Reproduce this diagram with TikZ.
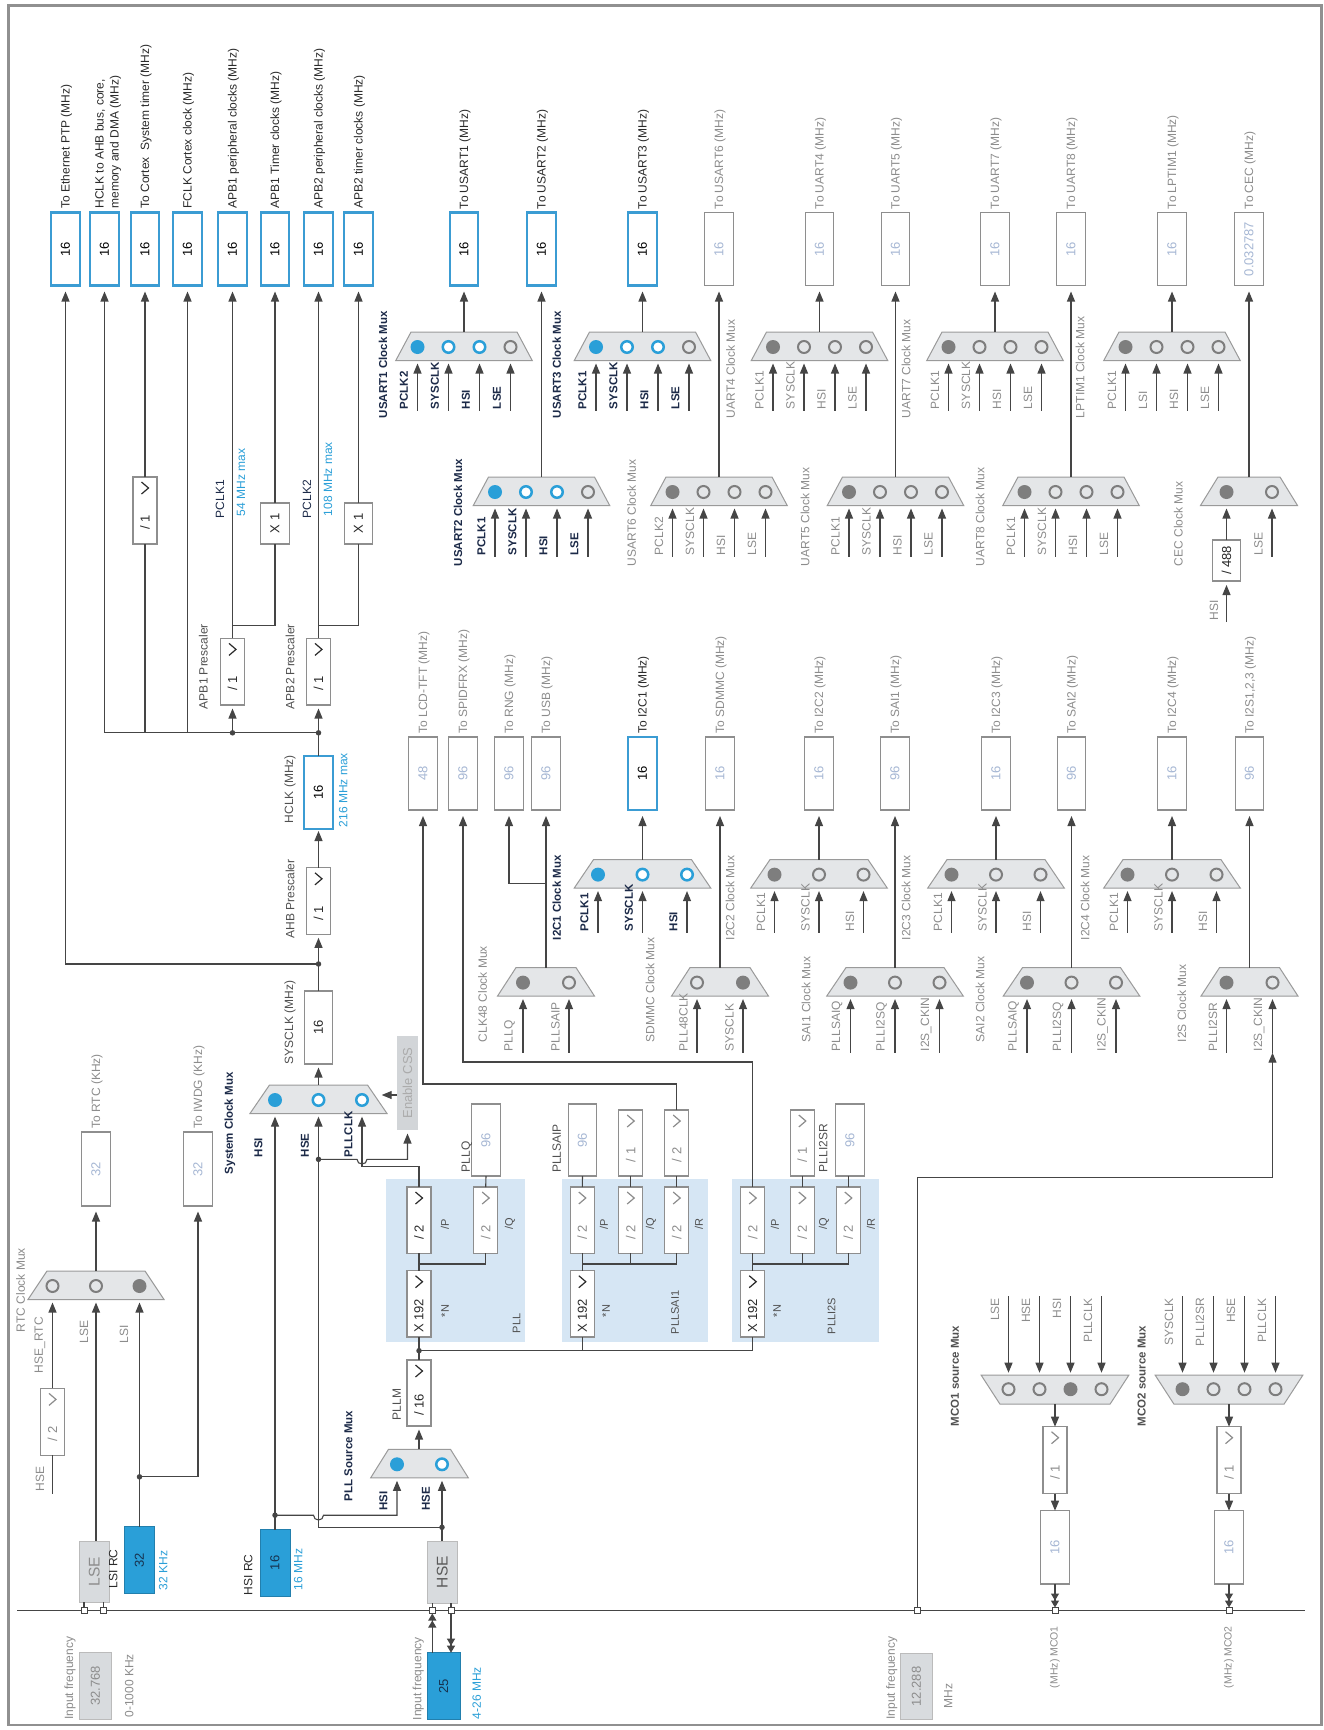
\documentclass[tikz,border=0pt]{standalone}
\usepackage{fontspec}
\setmainfont{Liberation Sans}
\usepackage{graphicx}
\usetikzlibrary{arrows.meta}

\definecolor{cblue}{HTML}{2A9FD8}
\definecolor{cbline}{HTML}{3B9CD3}
\definecolor{pllbg}{HTML}{D6E6F4}
\definecolor{muxf}{HTML}{E4E6E8}
\definecolor{muxd}{HTML}{9A9A9A}
\definecolor{tnavy}{HTML}{1C2A48}
\definecolor{tdark}{HTML}{2A2A2A}
\definecolor{tmid}{HTML}{505050}
\definecolor{tgray}{HTML}{8C8C8C}
\definecolor{vgray}{HTML}{A6B7D4}
\definecolor{lncol}{HTML}{454545}
\definecolor{bxd}{HTML}{8E8E8E}
\definecolor{gboxf}{HTML}{D8DBDE}
\definecolor{framec}{HTML}{909090}
\definecolor{cgray}{HTML}{7E7E7E}
\definecolor{cssf}{HTML}{D2D5D8}
\definecolor{bluetxt}{HTML}{17324F}

\newcommand{\fs}[1]{\fontsize{#1}{#1}\selectfont}

\tikzset{
  every node/.style={inner sep=0pt, outer sep=0pt},
  Lg/.style={rotate=90, font=\fs{12}, text=tgray},
  Ld/.style={rotate=90, font=\fs{12}, text=tdark},
  Lm/.style={rotate=90, font=\fs{12}, text=tmid},
  Lb/.style={rotate=90, font=\fs{12}, text=cblue},
  Lnr/.style={rotate=90, font=\fs{12}, text=tnavy},
  Ln/.style={rotate=90, font=\fs{11.5}\bfseries, text=tnavy},
  Lgb/.style={rotate=90, font=\fs{11.5}\bfseries, text=tmid},
  ln/.style={draw=lncol, line width=1.1pt},
  arr/.style={ln, -{Triangle[length=10pt,width=8pt]}},
  arrtwo/.style={ln, -{Triangle[length=7pt,width=8pt] Triangle[length=7pt,width=8pt]}},
  bx/.style={rectangle, draw=bxd, line width=1.1pt, fill=white, font=\fs{13}, text=vgray, minimum width=28.5pt},
  abx/.style={bx, draw=cbline, line width=2.3pt, text=black},
  sbx/.style={bx, text=black!85},
  ddb/.style={rectangle, draw=bxd, line width=1.1pt, fill=white, minimum width=24pt},
  muxs/.style={fill=muxf, draw=muxd, line width=1pt},
  cs/.style={circle, fill=cblue, minimum size=14pt},
  ca/.style={circle, draw=cblue, line width=2.5pt, fill=white, minimum size=11.5pt},
  cn/.style={circle, draw=cgray, line width=2pt, fill=muxf, minimum size=12pt},
  cg/.style={circle, fill=cgray, minimum size=14pt},
  dot/.style={circle, fill=lncol, minimum size=5.5pt},
  pinsq/.style={rectangle, draw=lncol, line width=1pt, fill=white, minimum size=6pt},
  rcb/.style={rectangle, fill=cblue, draw=cblue!80!black, line width=0.8pt, font=\fs{13}, text=bluetxt},
  gb/.style={rectangle, fill=gboxf, draw=bxd!60, line width=0.6pt, font=\fs{13}, text=tgray},
}

% value box: [style]{name}{cx}{ytop}{ybot}{text}
\newcommand{\VB}[6][bx]{\node[#1, minimum height={(#5)-(#4)}] (#2) at (#3,{((#4)+(#5))/2}) {\rotatebox{90}{#6}};}
% dropdown box: {name}{cx}{ytop}{ybot}{text}{colour}
\newcommand{\DD}[6]{%
  \node[ddb, minimum height={(#4)-(#3)}] (#1) at (#2,{((#3)+(#4))/2}) {};
  \node[rotate=90, font=\fs{13}, text=#6] (#1-t) at (#2,{(#3)+0.68*((#4)-(#3))}) {#5};
  \draw[draw=#6, line width=1.2pt] ({#2-3.5},{#3+5}) -- ({#2+3.5},{#3+11}) -- ({#2-3.5},{#3+17});}
% upward mux: {name}{cx}{ytop}{tophalf}{bothalf}{list x/style}
\newcommand{\MuxC}[6]{%
  \filldraw[muxs] ({#2-#4},#3) -- ({#2+#4},#3) -- ({#2+#5},{#3+28.5}) -- ({#2-#5},{#3+28.5}) -- cycle;
  \coordinate (#1) at (#2,#3);
  \foreach \xx/\ss [count=\k] in {#6} {\node[\ss] (#1-\k) at (\xx,{#3+15}) {};}}
% inputs from below: {muxtop}{ystart}{list x/label}{style}
\newcommand{\Ins}[4]{%
  \foreach \xx/\ll in {#3} {\draw[arr] (\xx,#2) -- (\xx,{#1+31.5});
    \node[#4, anchor=west] at ({\xx-13.5},{#2-1.5}) {\ll};}}
% downward mux: {name}{cx}{ytop}{widehalf}{narrowhalf}{list x/style}
\newcommand{\MuxD}[6]{%
  \filldraw[muxs] ({#2-#4},#3) -- ({#2+#4},#3) -- ({#2+#5},{#3+29}) -- ({#2-#5},{#3+29}) -- cycle;
  \coordinate (#1) at (#2,{#3+29});
  \foreach \xx/\ss [count=\k] in {#6} {\node[\ss] (#1-\k) at (\xx,{#3+14}) {};}}
\newcommand{\InsD}[4]{%
  \foreach \xx/\ll in {#3} {\draw[arr] (\xx,#2) -- (\xx,{#1-2.5});
    \node[#4, anchor=east] at ({\xx-13.5},{#2+2}) {\ll};}}
% output box fed by mux: {style}{name}{cx}{ytop}{ybot}{value}{label}{labelstyle}{mux}
\newcommand{\Out}[9]{%
  \VB[#1]{#2}{#3}{#4}{#5}{#6}
  \node[#8, anchor=west] at ({#3+1},{#4-3.5}) {#7};
  \draw[arr, shorten >=6pt] (#2.south |- #9) -- (#2.south);}

\begin{document}
\begin{tikzpicture}[x=1pt,y=-1pt]
\useasboundingbox (0,0) rectangle (1324,1730);
\fill[white] (0,0) rectangle (1324,1730);
\draw[framec, line width=2.5pt] (8.3,5.5) rectangle (1321.7,1725);

% ================= PLL backgrounds
\fill[pllbg] (386,1179.3) rectangle (525,1341.7);
\fill[pllbg] (561.7,1179.3) rectangle (707.7,1341.7);
\fill[pllbg] (732.3,1179.3) rectangle (879.3,1341.7);

% ================= top-left outputs
\VB[abx]{eth}{65.5}{212.5}{285.5}{16}
\VB[abx]{hclko}{104.5}{212.5}{285.5}{16}
\VB[abx]{cort}{145}{212.5}{285.5}{16}
\VB[abx]{fclk}{187.5}{212.5}{285.5}{16}
\VB[abx]{apb1p}{232.5}{212.5}{285.5}{16}
\VB[abx]{apb1t}{275}{212.5}{285.5}{16}
\VB[abx]{apb2p}{318.5}{212.5}{285.5}{16}
\VB[abx]{apb2t}{358.5}{212.5}{285.5}{16}
\node[Ld, anchor=west] at (66.5,208.5) {To Ethernet PTP (MHz)};
\node[Ld, anchor=west, align=left, font=\fontsize{12}{15}\selectfont] at (108,208.5) {HCLK to AHB bus, core,\\memory and DMA (MHz)};
\node[Ld, anchor=west] at (146,208.5) {To Cortex\ \ System timer (MHz)};
\node[Ld, anchor=west] at (188.5,208.5) {FCLK Cortex clock (MHz)};
\node[Ld, anchor=west] at (233.5,208.5) {APB1 peripheral clocks (MHz)};
\node[Ld, anchor=west] at (276,208.5) {APB1 Timer clocks (MHz)};
\node[Ld, anchor=west] at (319.5,208.5) {APB2 peripheral clocks (MHz)};
\node[Ld, anchor=west] at (359.5,208.5) {APB2 timer clocks (MHz)};

\DD{cortdiv}{145}{477}{544}{/ 1}{tdark}
\VB[sbx]{x1a}{275}{503}{544}{X 1}
\VB[sbx]{x1b}{358.5}{503}{544}{X 1}
\DD{apb1pre}{232.5}{638.4}{705}{/ 1}{tdark}
\DD{apb2pre}{318.5}{638.4}{705}{/ 1}{tdark}
\VB[abx]{hclk}{318.5}{756}{829}{16}
\DD{ahb}{318.5}{867.8}{934.3}{/ 1}{tdark}
\VB[sbx]{sysclk}{318.5}{991}{1064}{16}

\node[Lnr, anchor=west] at (220,518) {PCLK1};
\node[Lb, anchor=west] at (241,516) {54 MHz max};
\node[Lnr, anchor=west] at (307,518) {PCLK2};
\node[Lb, anchor=west] at (328,516) {108 MHz max};
\node[Lm, anchor=west] at (203.3,709) {APB1 Prescaler};
\node[Lm, anchor=west] at (290,709) {APB2 Prescaler};
\node[Lm, anchor=west] at (290,823) {HCLK (MHz)};
\node[Lb, anchor=west] at (343.3,827) {216 MHz max};
\node[Lm, anchor=west] at (290,938) {AHB Prescaler};
\node[Lm, anchor=west] at (290,1064) {SYSCLK (MHz)};

\draw[arr, shorten >=6pt] (318.5,964) -| (eth.south);
\draw[ln] (104.5,732.8) -- (318.5,732.8);
\draw[arr, shorten >=6pt] (104.5,732.8) -- (hclko.south);
\draw[ln] (145,732.8) -- (cortdiv.south);
\draw[arr, shorten >=6pt] (cortdiv.north) -- (cort.south);
\draw[arr, shorten >=6pt] (187.5,732.8) -- (fclk.south);
\draw[arr, shorten >=3.5pt] (232.5,732.8) -- (apb1pre.south);
\draw[arr, shorten >=6pt] (apb1pre.north) -- (apb1p.south);
\draw[ln] (232.5,625.5) -| (x1a.south);
\draw[arr, shorten >=6pt] (x1a.north) -- (apb1t.south);
\draw[arr, shorten >=3.5pt] (hclk.north) -- (apb2pre.south);
\draw[arr, shorten >=6pt] (apb2pre.north) -- (apb2p.south);
\draw[ln] (318.5,625.5) -| (x1b.south);
\draw[arr, shorten >=6pt] (x1b.north) -- (apb2t.south);
\draw[arr, shorten >=2pt] (ahb.north) -- (hclk.south);
\draw[arr, shorten >=3.5pt] (sysclk.north) -- (ahb.south);
\node[dot] (j1) at (232.5,732.8) {};
\node[dot] (j2) at (318.5,732.8) {};
\node[dot] (j3) at (318.5,964) {};

% ================= row 1 muxes (top 332)
\MuxC{usart1}{464}{332}{53}{68.2}{417.5/cs,448.5/ca,479.5/ca,510.5/cn}
\Ins{332}{410.5}{417.5/PCLK2,448.5/SYSCLK,479.5/HSI,510.5/LSE}{Ln}
\MuxC{usart3}{642.5}{332}{53}{68.2}{596/cs,627/ca,658/ca,689/cn}
\Ins{332}{410.5}{596/PCLK1,627/SYSCLK,658/HSI,689/LSE}{Ln}
\MuxC{uart4}{819.5}{332}{53}{68.2}{773/cg,804/cn,835/cn,866/cn}
\Ins{332}{410.5}{773/PCLK1,804/SYSCLK,835/HSI,866/LSE}{Lg}
\MuxC{uart7}{995}{332}{53}{68.2}{948.5/cg,979.5/cn,1010.5/cn,1041.5/cn}
\Ins{332}{410.5}{948.5/PCLK1,979.5/SYSCLK,1010.5/HSI,1041.5/LSE}{Lg}
\MuxC{lptim1}{1172}{332}{53}{68.2}{1125.5/cg,1156.5/cn,1187.5/cn,1218.5/cn}
\Ins{332}{410.5}{1125.5/PCLK1,1156.5/LSI,1187.5/HSI,1218.5/LSE}{Lg}
\node[Ln, anchor=west] at (383,418) {USART1 Clock Mux};
\node[Ln, anchor=west] at (556.7,418) {USART3 Clock Mux};
\node[Lg, anchor=west] at (730.7,418) {UART4 Clock Mux};
\node[Lg, anchor=west] at (906,418) {UART7 Clock Mux};
\node[Lg, anchor=west] at (1080,418) {LPTIM1 Clock Mux};

% ================= row 2 muxes (top 477)
\MuxC{usart2}{541.5}{477}{53}{68.2}{495/cs,526/ca,557/ca,588/cn}
\Ins{477}{556.7}{495/PCLK1,526/SYSCLK,557/HSI,588/LSE}{Ln}
\MuxC{usart6}{719}{477}{53}{68.2}{672.5/cg,703.5/cn,734.5/cn,765.5/cn}
\Ins{477}{556.7}{672.5/PCLK2,703.5/SYSCLK,734.5/HSI,765.5/LSE}{Lg}
\MuxC{uart5}{895.5}{477}{53}{68.2}{849/cg,880/cn,911/cn,942/cn}
\Ins{477}{556.7}{849/PCLK1,880/SYSCLK,911/HSI,942/LSE}{Lg}
\MuxC{uart8}{1071}{477}{53}{68.2}{1024.5/cg,1055.5/cn,1086.5/cn,1117.5/cn}
\Ins{477}{556.7}{1024.5/PCLK1,1055.5/SYSCLK,1086.5/HSI,1117.5/LSE}{Lg}
\MuxC{cec}{1249}{477}{31}{48.5}{1226.5/cg,1272/cn}
\Ins{477}{556.7}{1272/LSE}{Lg}
\node[sbx, minimum width=28pt, minimum height=41pt] (d488) at (1226.5,560.5) {\rotatebox{90}{/ 488}};
\draw[arr, shorten >=4pt] (1226.5,622) -- (d488.south);
\draw[arr] (d488.north) -- (1226.5,508.5);
\node[Lg, anchor=west] at (1214,620.5) {HSI};
\node[Ln, anchor=west] at (458,566) {USART2 Clock Mux};
\node[Lg, anchor=west] at (631.7,566) {USART6 Clock Mux};
\node[Lg, anchor=west] at (805,566) {UART5 Clock Mux};
\node[Lg, anchor=west] at (980,566) {UART8 Clock Mux};
\node[Lg, anchor=west] at (1178.3,566) {CEC Clock Mux};

% ================= row 1/2 outputs
\Out{abx}{ou1}{464}{212.5}{285.5}{16}{To USART1 (MHz)}{Ld}{usart1}
\Out{abx}{ou2}{541.5}{212.5}{285.5}{16}{To USART2 (MHz)}{Ld}{usart2}
\Out{abx}{ou3}{642.5}{212.5}{285.5}{16}{To USART3 (MHz)}{Ld}{usart3}
\Out{bx}{ou6}{719}{212.5}{285.5}{16}{To USART6 (MHz)}{Lg}{usart6}
\Out{bx}{oua4}{819.5}{212.5}{285.5}{16}{To UART4 (MHz)}{Lg}{uart4}
\Out{bx}{oua5}{895.5}{212.5}{285.5}{16}{To UART5 (MHz)}{Lg}{uart5}
\Out{bx}{oua7}{995}{212.5}{285.5}{16}{To UART7 (MHz)}{Lg}{uart7}
\Out{bx}{oua8}{1071}{212.5}{285.5}{16}{To UART8 (MHz)}{Lg}{uart8}
\Out{bx}{olp}{1172}{212.5}{285.5}{16}{To LPTIM1 (MHz)}{Lg}{lptim1}
\Out{bx}{ocec}{1249}{212.5}{285.5}{0.032787}{To CEC (MHz)}{Lg}{cec}

% ================= row 3 muxes (top 859.6)
\MuxC{i2c1}{642.5}{859.6}{49}{68.3}{598/cs,642.5/ca,687/ca}
\Ins{859.6}{932.5}{598/PCLK1,642.5/SYSCLK,687/HSI}{Ln}
\MuxC{i2c2}{819}{859.6}{49}{68.3}{774.5/cg,819/cn,863.5/cn}
\Ins{859.6}{932.5}{774.5/PCLK1,819/SYSCLK,863.5/HSI}{Lg}
\MuxC{i2c3}{996}{859.6}{49}{68.3}{951.5/cg,996/cn,1040.5/cn}
\Ins{859.6}{932.5}{951.5/PCLK1,996/SYSCLK,1040.5/HSI}{Lg}
\MuxC{i2c4}{1172}{859.6}{49}{68.3}{1127.5/cg,1172/cn,1216.5/cn}
\Ins{859.6}{932.5}{1127.5/PCLK1,1172/SYSCLK,1216.5/HSI}{Lg}
\node[Ln, anchor=west] at (556.7,940) {I2C1 Clock Mux};
\node[Lg, anchor=west] at (730,940) {I2C2 Clock Mux};
\node[Lg, anchor=west] at (906,940) {I2C3 Clock Mux};
\node[Lg, anchor=west] at (1085,940) {I2C4 Clock Mux};

% ================= row 4 muxes (top 967.6)
\MuxC{clk48}{546}{967.6}{30}{48.5}{523/cg,569/cn}
\Ins{967.6}{1052.7}{523/PLLQ,569/PLLSAIP}{Lg}
\MuxC{sdmmc}{720}{967.6}{30}{48.5}{697/cn,743/cg}
\Ins{967.6}{1052.7}{697/PLL48CLK,743/SYSCLK}{Lg}
\MuxC{sai1}{895}{967.6}{49}{68.3}{850.5/cg,895/cn,939.5/cn}
\Ins{967.6}{1052.7}{850.5/PLLSAIQ,895/PLLI2SQ,939.5/I2S\_CKIN}{Lg}
\MuxC{sai2}{1071.5}{967.6}{49}{68.3}{1027/cg,1071.5/cn,1116/cn}
\Ins{967.6}{1052.7}{1027/PLLSAIQ,1071.5/PLLI2SQ,1116/I2S\_CKIN}{Lg}
\MuxC{i2s}{1249.5}{967.6}{30}{48.5}{1226.5/cg,1272.5/cn}
\Ins{967.6}{1052.7}{1226.5/PLLI2SR,1272.5/I2S\_CKIN}{Lg}
\node[Lg, anchor=west] at (482.7,1042) {CLK48 Clock Mux};
\node[Lg, anchor=west] at (650,1042) {SDMMC Clock Mux};
\node[Lg, anchor=west] at (806,1042) {SAI1 Clock Mux};
\node[Lg, anchor=west] at (980,1042) {SAI2 Clock Mux};
\node[Lg, anchor=west] at (1181.7,1042) {I2S Clock Mux};

% ================= row 3/4 outputs
\VB{lcd}{423}{737}{810}{48}
\node[Lg, anchor=west] at (424,733.5) {To LCD-TFT (MHz)};
\VB{spdif}{463}{737}{810}{96}
\node[Lg, anchor=west] at (464,733.5) {To SPIDFRX (MHz)};
\VB{rng}{509}{737}{810}{96}
\node[Lg, anchor=west] at (510,733.5) {To RNG (MHz)};
\VB{usb}{546}{737}{810}{96}
\node[Lg, anchor=west] at (547,733.5) {To USB (MHz)};
\draw[arr, shorten >=6pt] (clk48) -- (usb.south);
\draw[arr, shorten >=6pt] (546,883.7) -| (rng.south);
\Out{abx}{oi2c1}{642.5}{737}{810}{16}{To I2C1 (MHz)}{Ld}{i2c1}
\Out{bx}{osdmmc}{720}{737}{810}{16}{To SDMMC (MHz)}{Lg}{sdmmc}
\Out{bx}{oi2c2}{819}{737}{810}{16}{To I2C2 (MHz)}{Lg}{i2c2}
\Out{bx}{osai1}{895}{737}{810}{96}{To SAI1 (MHz)}{Lg}{sai1}
\Out{bx}{oi2c3}{996}{737}{810}{16}{To I2C3 (MHz)}{Lg}{i2c3}
\Out{bx}{osai2}{1071.5}{737}{810}{96}{To SAI2 (MHz)}{Lg}{sai2}
\Out{bx}{oi2c4}{1172}{737}{810}{16}{To I2C4 (MHz)}{Lg}{i2c4}
\Out{bx}{oi2s}{1249.5}{737}{810}{96}{To I2S1,2,3 (MHz)}{Lg}{i2s}

% ================= system clock mux
\MuxC{sysmux}{318.5}{1085}{49}{68.5}{275/cs,318.5/ca,362/ca}
\draw[arr, shorten >=3.5pt] (sysmux) -- (sysclk.south);
\node[Ln, anchor=west] at (230,1174) {System Clock Mux};
\node[Ln, anchor=west] at (258.3,1157) {HSI};
\node[Ln, anchor=west] at (305,1157) {HSE};
\node[Ln, anchor=west] at (348.3,1157) {PLLCLK};
\node[rectangle, fill=cssf, minimum width=21pt, minimum height=94pt] (css) at (407.5,1083) {\rotatebox{90}{\fs{13}\color{black!33}Enable CSS}};
\draw[arr] (css.west |- 0,1095) -- (381.7,1095);

% ================= PLLs
\DD{pN}{419}{1270.7}{1337}{X 192}{tdark}
\DD{pP}{419}{1187}{1253.3}{/ 2}{tdark}
\DD{pQ}{485.7}{1187}{1253.3}{/ 2}{tgray}
\DD{sN}{582.3}{1270.7}{1337}{X 192}{tdark}
\DD{sP}{582.3}{1187}{1253.3}{/ 2}{tgray}
\DD{sQ}{630.7}{1187}{1253.3}{/ 2}{tgray}
\DD{sR}{676.7}{1187}{1253.3}{/ 2}{tgray}
\DD{iN}{752.7}{1270.7}{1337}{X 192}{tdark}
\DD{iP}{752.7}{1187}{1253.3}{/ 2}{tgray}
\DD{iQ}{802.3}{1187}{1253.3}{/ 2}{tgray}
\DD{iR}{848.3}{1187}{1253.3}{/ 2}{tgray}
\VB{pllq}{486}{1104}{1176}{96}
\VB{saip}{582.5}{1104}{1176}{96}
\DD{saiq}{630.7}{1110}{1176}{/ 1}{tgray}
\DD{sair}{676.7}{1110}{1176}{/ 2}{tgray}
\DD{i2sq}{802.3}{1110}{1176}{/ 1}{tgray}
\VB{i2sr}{849.8}{1104}{1176}{96}
\node[Lm, anchor=west] at (466.7,1172) {PLLQ};
\node[Lm, anchor=west] at (556.7,1172.7) {PLLSAIP};
\node[Lm, anchor=west] at (823.3,1172) {PLLI2SR};
\foreach \xx/\tt in {445/P,510/Q,604/P,651/Q,699/R,775/P,824/Q,871/R}
  {\node[Lm, font=\fs{11}] at (\xx,1224) {/\tt};}
\foreach \xx in {445,606,777} {\node[Lm, font=\fs{11}] at (\xx,1311) {*N};}
\node[Lm, anchor=west, font=\fs{11}] at (516.7,1333) {PLL};
\node[Lm, anchor=west, font=\fs{11}] at (675,1334) {PLLSAI1};
\node[Lm, anchor=west, font=\fs{11}] at (831.7,1334) {PLLI2S};

\draw[ln] (pN.north) -- (pP.south);
\draw[ln] (419,1264) -| (pQ.south);
\draw[ln] (sN.north) -- (sP.south);
\draw[ln] (582.3,1264) -| (sR.south);
\draw[ln] (630.7,1264) -- (sQ.south);
\draw[ln] (iN.north) -- (iP.south);
\draw[ln] (752.7,1264) -| (iR.south);
\draw[ln] (802.3,1264) -- (iQ.south);
\draw[ln] (pQ.north) -- (pllq.south);
\draw[ln] (sP.north) -- (saip.south);
\draw[ln] (sQ.north) -- (saiq.south);
\draw[ln] (sR.north) -- (sair.south);
\draw[ln] (iQ.north) -- (i2sq.south);
\draw[ln] (iR.north) -- (i2sr.south -| iR.north);
\draw[arr, shorten >=6pt] (sair.north) |- (423,1084) -- (lcd.south);
\draw[arr, shorten >=6pt] (iP.north) |- (463,1062) -- (spdif.south);
\draw[arr] (pP.north) |- (362,1166.7) -- (362,1116.6);

% HSE branch to CSS with hop over PLLCLK line
\draw[arr] (318.5,1159.3) -- (357,1159.3) .. controls (357,1165.5) and (367,1165.5) .. (367,1159.3) -- (407.5,1159.3) -- (407.5,1133.5);
\node[dot] (j4) at (318.5,1159.3) {};

% PLLM and source mux
\DD{pllm}{419}{1360}{1426}{/ 16}{tdark}
\node[Lm, anchor=west] at (396.7,1420) {PLLM};
\draw[ln] (pllm.north) -- (pN.south);
\draw[ln] (419,1350.7) -| (iN.south);
\draw[ln] (582.3,1350.7) -- (sN.south);
\node[dot] (j5) at (419,1350.7) {};
\MuxC{psrc}{419.5}{1449.3}{31}{48.8}{397/cs,442/ca}
\draw[arr, shorten >=3.5pt] (psrc -| pllm.south) -- (pllm.south);
\node[Ln, anchor=west] at (348.3,1501) {PLL Source Mux};
\node[Ln, anchor=west] at (383.3,1510.7) {HSI};
\node[Ln, anchor=west] at (426,1510.7) {HSE};

% ================= oscillators
\node[rcb, minimum width=30pt, minimum height=66.5pt] (hsirc) at (275,1562.8) {\rotatebox{90}{16}};
\node[rcb, minimum width=30pt, minimum height=66.6pt] (lsirc) at (139.5,1560.1) {\rotatebox{90}{32}};
\node[gb, minimum width=30.3pt, minimum height=61.2pt, font=\fs{15.5}, text=black!45] (lse) at (94.2,1571.4) {\rotatebox{90}{LSE}};
\node[gb, minimum width=30pt, minimum height=62.3pt, font=\fs{15.5}, text=black!65] (hse) at (442.3,1572.2) {\rotatebox{90}{HSE}};
\node[Ld, anchor=west] at (248.3,1595) {HSI RC};
\node[Lb, anchor=west] at (298.3,1590) {16 MHz};
\node[Ld, anchor=west] at (113.3,1588) {LSI RC};
\node[Lb, anchor=west] at (163.3,1590) {32 KHz};

\draw[arr] (hsirc.north) -- (275,1116.6);
\node[dot] (j6) at (275,1515.2) {};
\draw[arr] (275,1515.2) -- (313.5,1515.2) .. controls (313.5,1521.5) and (323.5,1521.5) .. (323.5,1515.2) -- (397,1515.2) -- (397,1480.8);
\draw[arr] (hse.north -| 442,0) -- (442,1480.8);
\node[dot] (j7) at (442,1527.3) {};
\draw[arr] (442,1527.3) -| (318.5,1116.6);

% ================= RTC / IWDG
\MuxC{rtc}{96}{1271}{49}{68}{52.5/cn,96/cn,139.5/cg}
\VB{rtcbox}{96}{1132}{1206}{32}
\VB{iwdg}{198}{1132}{1206}{32}
\node[Lg, anchor=west] at (97,1128.5) {To RTC (KHz)};
\node[Lg, anchor=west] at (199,1128.5) {To IWDG (KHz)};
\draw[arr, shorten >=5.5pt] (rtc) -- (rtcbox.south);
\DD{rtcdiv}{52.5}{1388.4}{1455.3}{/ 2}{tgray}
\draw[ln] (52.5,1493.7) -- (rtcdiv.south);
\draw[arr] (rtcdiv.north) -- (52.5,1302.5);
\draw[arr] (lse.north -| 96,0) -- (96,1302.5);
\draw[arr] (lsirc.north) -- (139.5,1302.5);
\node[dot] (j8) at (139.5,1476.8) {};
\draw[arr, shorten >=5.5pt] (139.5,1476.8) -| (iwdg.south);
\node[Lg, anchor=west] at (40,1491) {HSE};
\node[Lg, anchor=west] at (40,1373) {HSE\_RTC};
\node[Lg, anchor=west] at (84,1343) {LSE};
\node[Lg, anchor=west] at (124,1343) {LSI};
\node[Lg, anchor=west] at (20.7,1332) {RTC Clock Mux};

% ================= MCO
\MuxD{mco1}{1055}{1375.2}{73.8}{55}{1008.5/cn,1039.5/cn,1070.5/cg,1101.5/cn}
\InsD{1375.2}{1296}{1008.5/LSE,1039.5/HSE,1070.5/HSI,1101.5/PLLCLK}{Lg}
\DD{mco1d}{1055}{1426.7}{1493.7}{/ 1}{tgray}
\VB{mco1v}{1055}{1510.7}{1584}{16}
\draw[arr] (mco1) -- (mco1d.north);
\draw[arr] (mco1d.south) -- (mco1v.north);
\node[Lgb, anchor=west] at (955,1426) {MCO1 source Mux};
\MuxD{mco2}{1229}{1375.2}{73.8}{55}{1182.5/cg,1213.5/cn,1244.5/cn,1275.5/cn}
\InsD{1375.2}{1296}{1182.5/SYSCLK,1213.5/PLLI2SR,1244.5/HSE,1275.5/PLLCLK}{Lg}
\DD{mco2d}{1229}{1426.7}{1493.7}{/ 1}{tgray}
\VB{mco2v}{1229}{1510.7}{1584}{16}
\draw[arr] (mco2) -- (mco2d.north);
\draw[arr] (mco2d.south) -- (mco2v.north);
\node[Lgb, anchor=west] at (1141.7,1426) {MCO2 source Mux};

% ================= pin line and pins
\draw[ln] (17,1610.5) -- (1305,1610.5);
\node[pinsq] (pl1) at (84,1610.5) {};
\node[pinsq] (pl2) at (103.3,1610.5) {};
\node[pinsq] (ph1) at (432.3,1610.5) {};
\node[pinsq] (ph2) at (451,1610.5) {};
\node[pinsq] (pinI) at (917.3,1610.5) {};
\node[pinsq] (pm1) at (1055,1610.5) {};
\node[pinsq] (pm2) at (1229,1610.5) {};
\draw[ln] (pl1.north) -- (pl1.north |- lse.south);
\draw[ln] (pl2.north) -- (pl2.north |- lse.south);
\draw[ln] (ph1.north) -- (ph1.north |- hse.south);
\draw[ln] (ph2.north) -- (ph2.north |- hse.south);
\draw[arrtwo] (mco1v.south) -- (pm1.north);
\draw[arrtwo] (mco2v.south) -- (pm2.north);
\draw[arr] (pinI.north) |- (1272.5,1177.6) -- (1272.5,1052.7);

% ================= inputs at bottom
\node[rcb, minimum width=32.7pt, minimum height=66.6pt] (in25) at (443.6,1686) {\rotatebox{90}{25}};
\draw[arrtwo] (ph1.south |- in25.north) -- (ph1.south);
\draw[arrtwo] (ph2.south) -- (ph2.south |- in25.north);
\node[Lg, anchor=west] at (418.3,1720) {Input frequency};
\node[Lb, anchor=west] at (476.7,1719) {4-26 MHz};
\node[gb, minimum width=32.4pt, minimum height=67pt] (f32) at (95.5,1686) {\rotatebox{90}{32.768}};
\node[Lg, anchor=west] at (70,1719.5) {Input frequency};
\node[Lg, anchor=west] at (129.3,1717.6) {0-1000 KHz};
\node[gb, minimum width=32.7pt, minimum height=66pt] (f12) at (916.3,1686.5) {\rotatebox{90}{12.288}};
\node[Lg, anchor=west] at (891.7,1719.5) {Input frequency};
\node[Lg, anchor=west] at (948.3,1708) {MHz};
\node[Lg, anchor=west, font=\fs{10.5}] at (1055,1688) {(MHz) MCO1};
\node[Lg, anchor=west, font=\fs{10.5}] at (1229,1688) {(MHz) MCO2};
\end{tikzpicture}
\end{document}
